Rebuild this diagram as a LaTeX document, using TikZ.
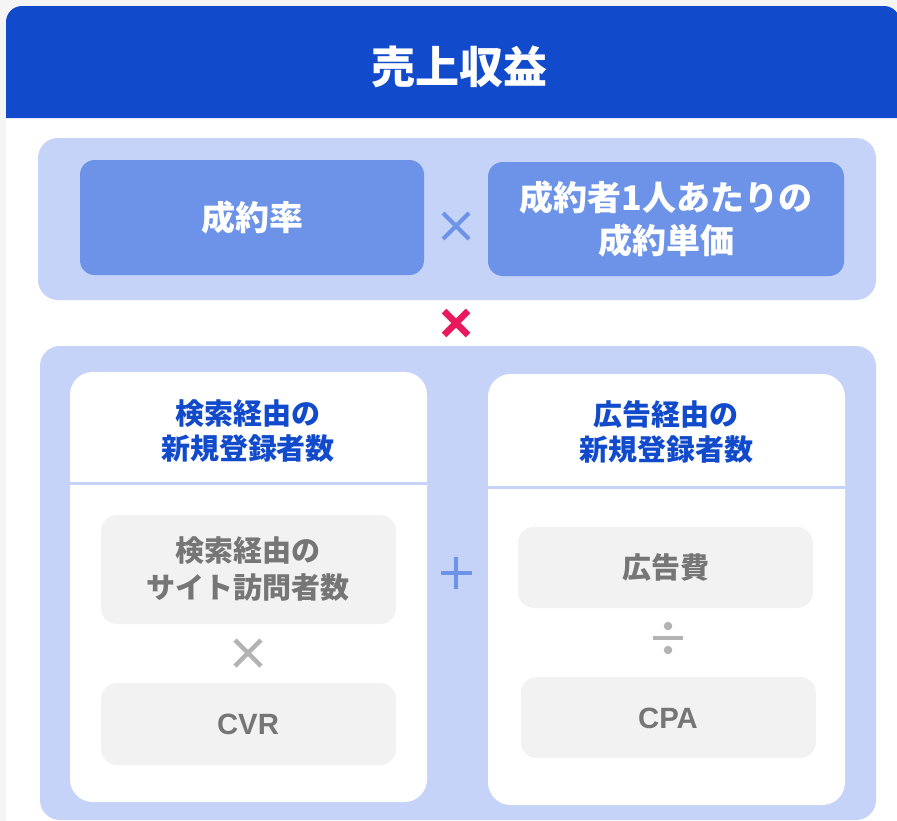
\documentclass[tikz,border=0pt]{standalone}
\usepackage{fontspec}
\newfontfamily\jp{Noto Sans CJK JP}
\newfontfamily\latin{Liberation Sans}

\definecolor{bgGray}{HTML}{F5F5F5}
\definecolor{headBlue}{HTML}{114BCC}
\definecolor{paleBlue}{HTML}{C5D3F8}
\definecolor{midBlue}{HTML}{6C93E8}
\definecolor{boxGray}{HTML}{F2F2F2}
\definecolor{textGray}{HTML}{767676}
\definecolor{opGray}{HTML}{B3B3B3}
\definecolor{opRed}{HTML}{E9195D}

\tikzset{
  title/.style={text=white, font=\jp\bfseries\fontsize{33pt}{40pt}\selectfont},
  factor/.style={text=white, align=center, inner sep=0pt,
    font=\jp\bfseries\fontsize{25.5pt}{32pt}\selectfont},
  cardhead/.style={text=headBlue, align=center, inner sep=0pt,
    font=\jp\bfseries\fontsize{21.75pt}{26.25pt}\selectfont},
  item/.style={text=textGray, align=center, inner sep=0pt,
    font=\jp\bfseries\fontsize{21.75pt}{27.75pt}\selectfont},
  itemlatin/.style={item, font=\latin\bfseries\fontsize{22pt}{26pt}\selectfont},
}

\begin{document}
\begin{tikzpicture}[x=0.75pt, y=-0.75pt]
    \useasboundingbox (0,0) rectangle (897,821);
    \fill[bgGray] (0,0) rectangle (897,821);

    % card and header
    \fill[white, rounded corners=12pt] (6,6) rectangle (900,840);
    \fill[headBlue] (6,118) [rounded corners=12pt] -- (6,6) -- (900,6)
      [sharp corners] -- (900,118) -- cycle;
    \node[title] (revenue) at (459,67) {売上収益};

    % upper row
    \fill[paleBlue, rounded corners=15pt] (38,138) rectangle (876,300);
    \fill[midBlue, rounded corners=11pt] (80,160) rectangle (424,275);
    \fill[midBlue, rounded corners=11pt] (488,162) rectangle (844,276);
    \node[factor] (rate) at (252,218) {成約率};
    \node[factor] (price) at (666,219) {成約者1人あたりの\\成約単価};
    \draw[midBlue, line width=3pt] (443,213) -- (469,239) (443,239) -- (469,213);

    \draw[opRed, line width=4.8pt] (444,311) -- (468,335) (444,335) -- (468,311);

    % lower row
    \fill[paleBlue, rounded corners=15pt] (40,346) rectangle (876,820);
    \fill[white, rounded corners=17pt] (70,372) rectangle (427,802);
    \fill[white, rounded corners=17pt] (488,374) rectangle (845,805);
    \draw[paleBlue, line width=2.25pt] (70,483) -- (427,483);
    \draw[paleBlue, line width=2.25pt] (488,487) -- (845,487);
    \node[cardhead] (search) at (248,431) {検索経由の\\新規登録者数};
    \node[cardhead] (ads) at (666,432) {広告経由の\\新規登録者数};

    \draw[midBlue, line width=3.3pt] (441,573) -- (472,573) (456,557) -- (456,589);

    % search side
    \fill[boxGray, rounded corners=12pt] (101,515) rectangle (396,624);
    \fill[boxGray, rounded corners=12pt] (101,683) rectangle (396,765);
    \node[item] (visits) at (248,569) {検索経由の\\サイト訪問者数};
    \node[itemlatin] (cvr) at (248,724) {CVR};
    \draw[opGray, line width=3.4pt] (235,640) -- (261,666) (235,666) -- (261,640);

    % ad side
    \fill[boxGray, rounded corners=12pt] (518,527) rectangle (813,608);
    \fill[boxGray, rounded corners=12pt] (521,677) rectangle (816,758);
    \node[item] (adcost) at (666,568) {広告費};
    \node[itemlatin] (cpa) at (668,718) {CPA};
    \draw[opGray, line width=3.5pt] (653,638) -- (683,638);
    \fill[opGray] (668,626) circle (3.2pt) (668,650) circle (3.2pt);
  \end{tikzpicture}
\end{document}
